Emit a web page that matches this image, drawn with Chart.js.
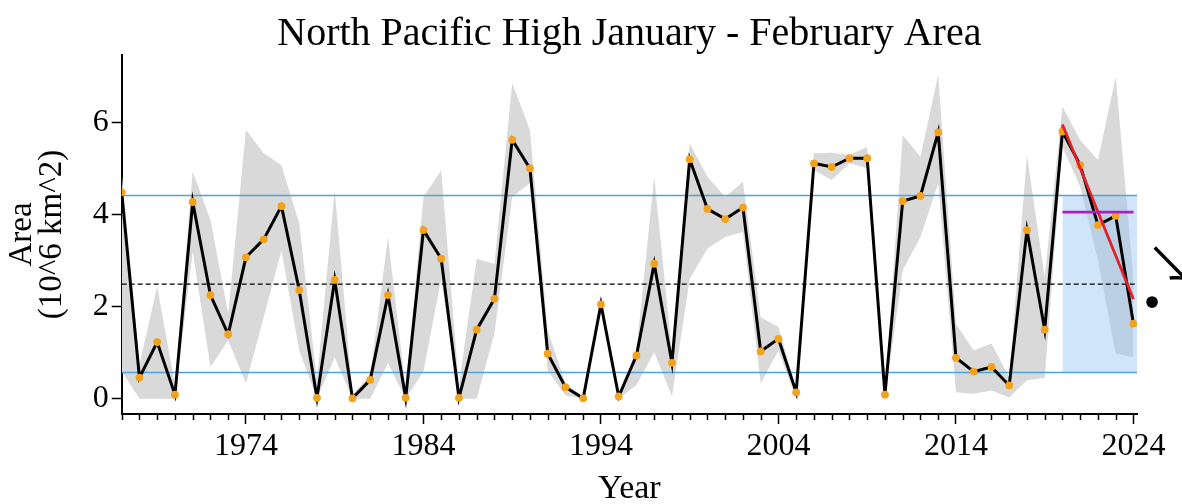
<!DOCTYPE html>
<html>
<head>
<meta charset="utf-8">
<script src="https://cdn.jsdelivr.net/npm/chart.js@4.4.1/dist/chart.umd.min.js"></script>
<style>
  html, body { margin: 0; padding: 0; background: #ffffff; }
  #wrap { width: 1182px; height: 504px; }
</style>
</head>
<body>
<div id="wrap"><canvas id="chart" width="1182" height="504"></canvas></div>
<script>
// Years on the x axis
const years = [
  1967, 1968, 1969, 1970, 1971, 1972, 1973, 1974, 1975, 1976,
  1977, 1978, 1979, 1980, 1981, 1982, 1983, 1984, 1985, 1986,
  1987, 1988, 1989, 1990, 1991, 1992, 1993, 1994, 1995, 1996,
  1997, 1998, 1999, 2000, 2001, 2002, 2003, 2004, 2005, 2006,
  2007, 2008, 2009, 2010, 2011, 2012, 2013, 2014, 2015, 2016,
  2017, 2018, 2019, 2020, 2021, 2022, 2023, 2024
];

// January-February mean area of the North Pacific High (10^6 km^2)
const areaValues = [
  4.48, 0.46, 1.23, 0.09, 4.27, 2.25, 1.40, 3.07, 3.46, 4.18,
  2.36, 0.02, 2.58, 0.01, 0.41, 2.25, 0.02, 3.66, 3.04, 0.02,
  1.50, 2.17, 5.62, 5.00, 0.98, 0.25, 0.01, 2.05, 0.05, 0.94,
  2.93, 0.78, 5.20, 4.12, 3.90, 4.15, 1.03, 1.30, 0.14, 5.11,
  5.03, 5.22, 5.22, 0.09, 4.29, 4.40, 5.78, 0.89, 0.59, 0.69,
  0.29, 3.66, 1.50, 5.80, 5.07, 3.77, 3.97, 1.63
];

// Spread between the January and February values (grey envelope)
const spreadLower = [
  0.60, 0.00, 0.00, 0.00, 3.20, 0.69, 1.27, 0.33, 1.77, 3.22,
  1.05, 0.00, 0.90, 0.00, 0.00, 0.77, 0.00, 0.60, 2.60, 0.00,
  0.00, 1.42, 4.38, 4.68, 0.62, 0.07, 0.00, 1.90, 0.00, 0.30,
  1.01, 0.05, 2.60, 3.26, 3.51, 3.62, 0.33, 1.05, 0.00, 4.96,
  4.75, 5.11, 5.00, 0.00, 2.79, 3.51, 4.67, 0.14, 0.11, 0.18,
  0.03, 0.40, 0.45, 5.47, 4.60, 3.00, 0.98, 0.90
];
const spreadUpper = [
  4.90, 0.75, 2.43, 0.30, 4.93, 3.88, 1.85, 5.83, 5.33, 5.07,
  3.81, 0.40, 4.53, 0.10, 0.50, 3.51, 0.20, 4.38, 4.96, 0.30,
  3.04, 2.93, 6.85, 5.83, 1.48, 0.33, 0.05, 2.25, 0.10, 1.05,
  4.82, 1.00, 5.54, 4.82, 4.38, 4.71, 1.77, 1.56, 0.20, 5.33,
  5.34, 5.29, 5.47, 0.15, 5.72, 5.25, 7.03, 1.63, 1.05, 1.20,
  0.47, 5.29, 2.64, 6.34, 5.61, 5.18, 6.99, 2.60
];

// Climatology: long-term mean and mean +/- one standard deviation
const climMean = 2.49;
const climUpper = 4.41;
const climLower = 0.57;

// Recent five-year window: its mean and its linear trend end values
const recentSpan = [2020, 2024];
const recentMean = 4.05;
const recentTrend = [5.95, 2.16];

// Axis ticks
const xTickYears = [1974, 1984, 1994, 2004, 2014, 2024];
const yTickValues = [0, 2, 4, 6];

const X_MIN = 1967, X_MAX = 2024.2;
const SERIF = '"Liberation Serif", "Times New Roman", serif';

const pts = (xs, ys) => xs.map((x, i) => ({ x: x, y: ys[i] }));
const flat = (v) => [{ x: X_MIN, y: v }, { x: X_MAX, y: v }];

// Minor (yearly) tick marks under the x axis
const minorTicks = {
  id: 'minorTicks',
  afterDraw(chart) {
    const { ctx, scales: { x }, chartArea } = chart;
    ctx.save();
    ctx.strokeStyle = '#000';
    ctx.lineWidth = 1.5;
    years.forEach((yr) => {
      if (xTickYears.includes(yr)) return;
      const px = Math.round(x.getPixelForValue(yr)) + 0.5;
      ctx.beginPath();
      ctx.moveTo(px, chartArea.bottom);
      ctx.lineTo(px, chartArea.bottom + 6);
      ctx.stroke();
    });
    ctx.restore();
  }
};

// Title centred over the plot area, and the trend marker to the right
const decorations = {
  id: 'decorations',
  afterDraw(chart) {
    const { ctx, chartArea, scales: { y } } = chart;
    ctx.save();
    ctx.fillStyle = '#000';
    ctx.font = '40px ' + SERIF;
    ctx.textAlign = 'center';
    ctx.textBaseline = 'middle';
    ctx.fillText('North Pacific High January - February Area', (chartArea.left + chartArea.right) / 2, 34);

    ctx.font = '40px "DejaVu Sans"';
    ctx.textAlign = 'center';
    ctx.textBaseline = 'middle';
    ctx.fillText('\u2022', chartArea.right + 15, y.getPixelForValue(1.99));
    ctx.font = '50px "Noto Sans CJK SC"';
    ctx.textAlign = 'left';
    ctx.fillText('\u2198', chartArea.right + 9, y.getPixelForValue(2.93));
    ctx.restore();
  }
};

new Chart(document.getElementById('chart'), {
  type: 'line',
  data: {
    datasets: [
      { // grey envelope, upper edge (filled down to the next dataset)
        data: pts(years, spreadUpper), fill: '+1', order: 10,
        backgroundColor: '#d9d9d9', borderColor: 'rgba(0,0,0,0)', borderWidth: 0,
        pointRadius: 0
      },
      { // grey envelope, lower edge
        data: pts(years, spreadLower), fill: false, order: 10,
        borderColor: 'rgba(0,0,0,0)', borderWidth: 0, pointRadius: 0
      },
      { // shaded recent window between the climatological bounds
        data: [{ x: recentSpan[0], y: climUpper }, { x: X_MAX, y: climUpper }],
        fill: { value: climLower }, order: 9,
        backgroundColor: 'rgba(150,198,245,0.45)', borderColor: 'rgba(0,0,0,0)', borderWidth: 0,
        pointRadius: 0
      },
      { data: flat(climUpper), order: 8, borderColor: '#4fa3d8', borderWidth: 1.4, pointRadius: 0, fill: false },
      { data: flat(climLower), order: 8, borderColor: '#4fa3d8', borderWidth: 1.4, pointRadius: 0, fill: false },
      { data: flat(climMean), order: 8, borderColor: '#000', borderWidth: 1.3, borderDash: [5, 3], pointRadius: 0, fill: false },
      { // annual series
        data: pts(years, areaValues), order: 5, fill: false,
        borderColor: '#000', borderWidth: 3, tension: 0,
        pointRadius: 3.9, pointBackgroundColor: '#f4a21c', pointBorderWidth: 0, pointBorderColor: '#f4a21c'
      },
      { // recent linear trend
        data: pts(recentSpan, recentTrend), order: 2, fill: false,
        borderColor: '#e3202a', borderWidth: 2.8, pointRadius: 0
      },
      { // recent mean
        data: pts(recentSpan, [recentMean, recentMean]), order: 1, fill: false,
        borderColor: '#b01cc0', borderWidth: 2.8, pointRadius: 0
      }
    ]
  },
  options: {
    responsive: false,
    animation: false,
    devicePixelRatio: 1,
    events: [],
    layout: { padding: { top: 55, right: 45, bottom: 0, left: 0 } },
    plugins: { legend: { display: false }, tooltip: { enabled: false }, title: { display: false } },
    scales: {
      x: {
        type: 'linear', min: X_MIN, max: X_MAX,
        afterBuildTicks: (s) => { s.ticks = xTickYears.map((v) => ({ value: v })); },
        afterFit: (s) => { s.height = 90; },
        border: { display: true, color: '#000', width: 2 },
        grid: { drawOnChartArea: false, drawTicks: true, tickLength: 10, tickColor: '#000', tickWidth: 1.5 },
        ticks: { callback: (v) => String(v), autoSkip: false, maxRotation: 0, color: '#000',
                 font: { family: SERIF, size: 32 }, padding: 3 },
        title: { display: true, text: 'Year', color: '#000', font: { family: SERIF, size: 34, lineHeight: 0.85 },
                 padding: { top: 0, bottom: 0 } }
      },
      y: {
        type: 'linear', min: -0.33, max: 7.46,
        afterBuildTicks: (s) => { s.ticks = yTickValues.map((v) => ({ value: v })); },
        afterFit: (s) => { s.width = 121.7; },
        border: { display: true, color: '#000', width: 2 },
        grid: { drawOnChartArea: false, drawTicks: true, tickLength: 10, tickColor: '#000', tickWidth: 1.5 },
        ticks: { color: '#000', font: { family: SERIF, size: 32 }, padding: 3 },
        title: { display: true, text: ['Area', '(10^6 km^2)'], color: '#000',
                 font: { family: SERIF, size: 33, lineHeight: 0.92 }, padding: { top: 7, bottom: 0 } }
      }
    }
  },
  plugins: [minorTicks, decorations]
});
</script>
</body>
</html>
